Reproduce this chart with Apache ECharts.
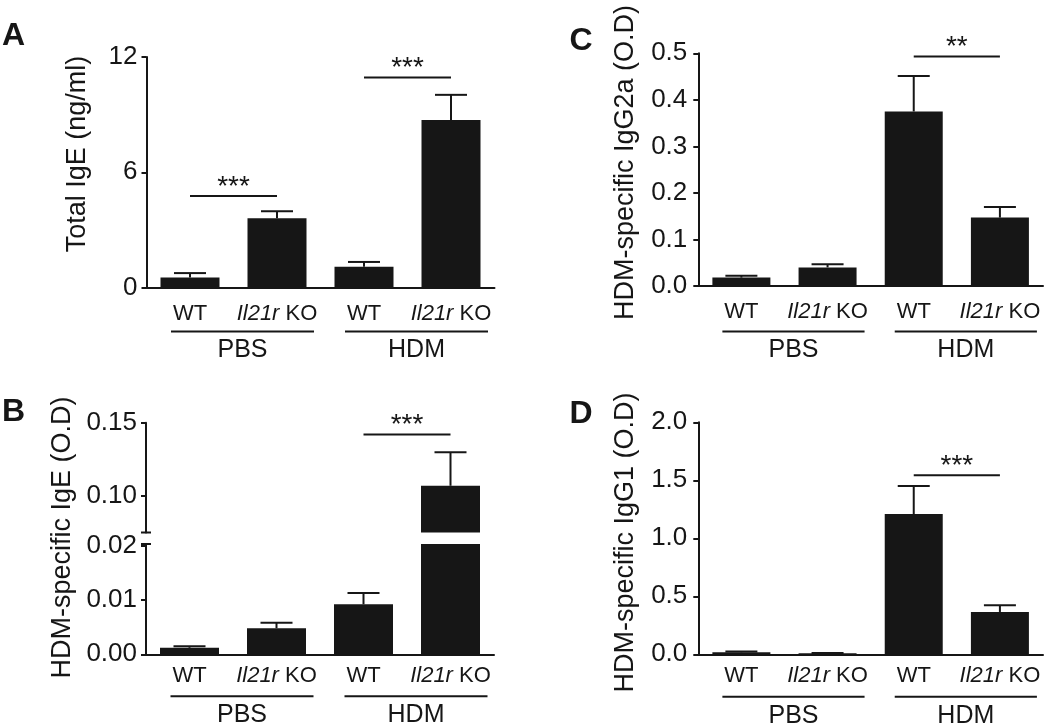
<!DOCTYPE html>
<html><head><meta charset="utf-8">
<script src="https://cdn.jsdelivr.net/npm/echarts@6/dist/echarts.min.js"></script>
<style>html,body{margin:0;padding:0;background:#fff}#c{width:1050px;height:724px}</style>
</head><body><div id="c"></div>
<script>
// ---------- data ----------
const categories = ['WT', 'Il21r KO', 'WT', 'Il21r KO'];
const groups = ['PBS', 'HDM'];

// Panel A: Total IgE (ng/ml)
const totalIgE = [0.52, 3.6, 1.08, 8.72];
const totalIgESem = [0.23, 0.37, 0.25, 1.31];
const ticksA = [0, 6, 12];
const sigA = [[0, 1, 4.77], [2, 3, 10.93]];
const sigALabels = ['***', '***'];

// Panel B: HDM-specific IgE (O.D) with broken axis
const hdmIgE = [0.0012, 0.0048, 0.0092, 0.1068];
const hdmIgESem = [0.0003, 0.0010, 0.0021, 0.0229];
const ticksBLow = [0, 0.01, 0.02];
const ticksBHigh = [0.10, 0.15];
const breakB = [0.0203, 0.0748]; // lower segment max, upper segment min
const sigB = [[2, 3, 0.142]];
const sigBLabels = ['***'];

// Panel C: HDM-specific IgG2a (O.D)
const hdmIgG2a = [0.018, 0.040, 0.375, 0.147];
const hdmIgG2aSem = [0.004, 0.007, 0.076, 0.023];
const ticksC = [0, 0.1, 0.2, 0.3, 0.4, 0.5];
const sigC = [[2, 3, 0.493]];
const sigCLabels = ['**'];

// Panel D: HDM-specific IgG1 (O.D)
const hdmIgG1 = [0.017, 0.009, 1.209, 0.365];
const hdmIgG1Sem = [0.007, 0.003, 0.242, 0.057];
const ticksD = [0, 0.5, 1.0, 1.5, 2.0];
const sigD = [[2, 3, 1.543]];
const sigDLabels = ['***'];

// ---------- styles ----------
const INK = '#161616';
const FONT = '"Liberation Sans", Arial, Helvetica, sans-serif';

function yAxis(gi, min, max, ticks, dec, margin) {
  return {
    type: 'value', gridIndex: gi, min: min, max: max,
    splitLine: { show: false },
    axisLine: { show: true, lineStyle: { color: INK, width: 2 } },
    axisTick: { show: true, length: 5, lineStyle: { color: INK, width: 2 }, customValues: ticks },
    axisLabel: { customValues: ticks, fontSize: 26, color: INK, fontFamily: FONT, margin: margin,
      formatter: v => dec === 0 ? String(Math.round(v)) : Number(v).toFixed(dec) }
  };
}
function xAxis(gi, show, margin) {
  return {
    type: 'category', gridIndex: gi, data: categories, show: show,
    axisLine: { lineStyle: { color: INK, width: 2 } },
    axisTick: { alignWithLabel: true, length: 6, lineStyle: { color: INK, width: 2 } },
    axisLabel: { interval: 0, fontSize: 22, color: INK, fontFamily: FONT, margin: margin || 12,
      formatter: (v, idx) => {
        const c = categories[idx];
        return c.indexOf('Il21r') === 0 ? '{i|Il21r}' + c.slice(5) : c;
      },
      rich: { i: { fontStyle: 'italic', fontSize: 22, color: INK, fontFamily: FONT } } }
  };
}
function barSeries(gi, data, w) {
  return { type: 'bar', xAxisIndex: gi, yAxisIndex: gi, data: data, barWidth: w,
    itemStyle: { color: INK }, silent: true, clip: true, animation: false };
}
function errSeries(gi, means, sems, keep) {
  const d = [];
  means.forEach((m, i) => { if (keep(m)) d.push([i, m, sems[i]]); });
  return { type: 'custom', xAxisIndex: gi, yAxisIndex: gi, data: d, silent: true, clip: false,
    encode: { x: 0, y: 1 }, z: 5, animation: false,
    renderItem: (params, api) => {
      const i = api.value(0), m = api.value(1), s = api.value(2);
      const base = api.coord([i, m]);
      const top = api.coord([i, m + s]);
      const st = { stroke: INK, lineWidth: 2 };
      return { type: 'group', children: [
        { type: 'line', shape: { x1: base[0], y1: base[1], x2: top[0], y2: top[1] }, style: st },
        { type: 'line', shape: { x1: top[0] - 16, y1: top[1], x2: top[0] + 16, y2: top[1] }, style: st }
      ] };
    } };
}
function groupSeries(gi, off) {
  return { type: 'custom', xAxisIndex: gi, yAxisIndex: gi, data: groups.map((g, k) => [k, 0]),
    silent: true, clip: false, encode: { x: 0, y: 1 }, z: 5, animation: false,
    renderItem: (params, api) => {
      const k = params.dataIndex;
      const p0 = api.coord([2 * k, 0]);
      const p1 = api.coord([2 * k + 1, 0]);
      const x0 = p0[0] - 19, x1 = p1[0] + 37, y = p0[1] + off;
      return { type: 'group', children: [
        { type: 'line', shape: { x1: x0, y1: y, x2: x1, y2: y }, style: { stroke: INK, lineWidth: 2 } },
        { type: 'text', x: (x0 + x1) / 2, y: y + 19,
          style: { text: groups[k], fontSize: 25, fontFamily: FONT, fill: INK, align: 'center', verticalAlign: 'middle' } }
      ] };
    } };
}
function sigSeries(gi, sig, labels) {
  return { type: 'custom', xAxisIndex: gi, yAxisIndex: gi, data: sig.map(s => [s[0], s[2], s[1]]),
    silent: true, clip: false, encode: { x: 0, y: 1 }, z: 5, animation: false,
    renderItem: (params, api) => {
      const p0 = api.coord([api.value(0), api.value(1)]);
      const p1 = api.coord([api.value(2), api.value(1)]);
      return { type: 'group', children: [
        { type: 'line', shape: { x1: p0[0], y1: p0[1], x2: p1[0], y2: p1[1] }, style: { stroke: INK, lineWidth: 2 } },
        { type: 'text', x: (p0[0] + p1[0]) / 2, y: p0[1] - 9,
          style: { text: labels[params.dataIndex], fontSize: 28, fontFamily: FONT, fill: INK, align: 'center', verticalAlign: 'middle' } }
      ] };
    } };
}
// small caps on the ends of the broken axis segments
function capSeries(gi, atTop) {
  return { type: 'custom', xAxisIndex: gi, yAxisIndex: gi, data: [[0, 0]], silent: true, clip: false,
    encode: { x: 0, y: 1 }, z: 6, animation: false,
    renderItem: (params) => {
      const cs = params.coordSys;
      const y = atTop ? cs.y : cs.y + cs.height;
      return { type: 'line', shape: { x1: cs.x - 5, y1: y, x2: cs.x + 5, y2: y }, style: { stroke: INK, lineWidth: 2 } };
    } };
}
function gtext(text, x, y, size, bold, rot) {
  return { type: 'text', x: x, y: y, rotation: rot || 0, silent: true,
    style: { text: text, fontSize: size, fontWeight: bold ? 'bold' : 'normal', fontFamily: FONT,
      fill: INK, align: 'center', verticalAlign: 'middle' } };
}

const lowMax = breakB[0], highMin = breakB[1];
const R = Math.PI / 2;

const option = {
  animation: false,
  backgroundColor: '#ffffff',
  grid: [
    { left: 146.5, top: 57, width: 348, height: 230.5 },      // A
    { left: 146, top: 544, width: 348, height: 110.3 },       // B lower
    { left: 146, top: 422.7, width: 348, height: 109.8 },     // B upper
    { left: 698.3, top: 53.3, width: 344.7, height: 232.7 },  // C
    { left: 698.3, top: 422.3, width: 344.7, height: 232 }    // D
  ],
  xAxis: [xAxis(0, true, 15), xAxis(1, true, 11), xAxis(2, false), xAxis(3, true, 15), xAxis(4, true, 11)],
  yAxis: [
    yAxis(0, ticksA[0], ticksA[ticksA.length - 1], ticksA, 0, 9),
    yAxis(1, 0, lowMax, ticksBLow, 2, 9),
    yAxis(2, highMin, ticksBHigh[ticksBHigh.length - 1], ticksBHigh, 2, 9),
    yAxis(3, 0, ticksC[ticksC.length - 1], ticksC, 1, 11),
    yAxis(4, 0, ticksD[ticksD.length - 1], ticksD, 1, 11)
  ],
  graphic: [
    gtext('A', 13.5, 36, 32, true),
    gtext('B', 13.5, 412, 32, true),
    gtext('C', 581, 41, 32, true),
    gtext('D', 581, 414, 32, true),
    gtext('Total IgE (ng/ml)', 78, 154, 27, false, R),
    gtext('HDM-specific IgE (O.D)', 62.5, 537.5, 27, false, R),
    gtext('HDM-specific IgG2a (O.D)', 626, 162.5, 27, false, R),
    gtext('HDM-specific IgG1 (O.D)', 626, 542.5, 27, false, R)
  ],
  series: [
    barSeries(0, totalIgE, 59),
    errSeries(0, totalIgE, totalIgESem, () => true),
    groupSeries(0, 44),
    sigSeries(0, sigA, sigALabels),

    barSeries(1, hdmIgE, 59),
    errSeries(1, hdmIgE, hdmIgESem, m => m <= lowMax),
    groupSeries(1, 42),
    capSeries(1, true),
    barSeries(2, hdmIgE.map(v => v >= highMin ? v : '-'), 59),
    errSeries(2, hdmIgE, hdmIgESem, m => m >= highMin),
    capSeries(2, false),
    sigSeries(2, sigB, sigBLabels),

    barSeries(3, hdmIgG2a, 58),
    errSeries(3, hdmIgG2a, hdmIgG2aSem, () => true),
    groupSeries(3, 45.5),
    sigSeries(3, sigC, sigCLabels),

    barSeries(4, hdmIgG1, 58),
    errSeries(4, hdmIgG1, hdmIgG1Sem, () => true),
    groupSeries(4, 42.5),
    sigSeries(4, sigD, sigDLabels)
  ]
};
const chart = echarts.init(document.getElementById('c'), null, { renderer: 'canvas' });
chart.setOption(option);
</script></body></html>
